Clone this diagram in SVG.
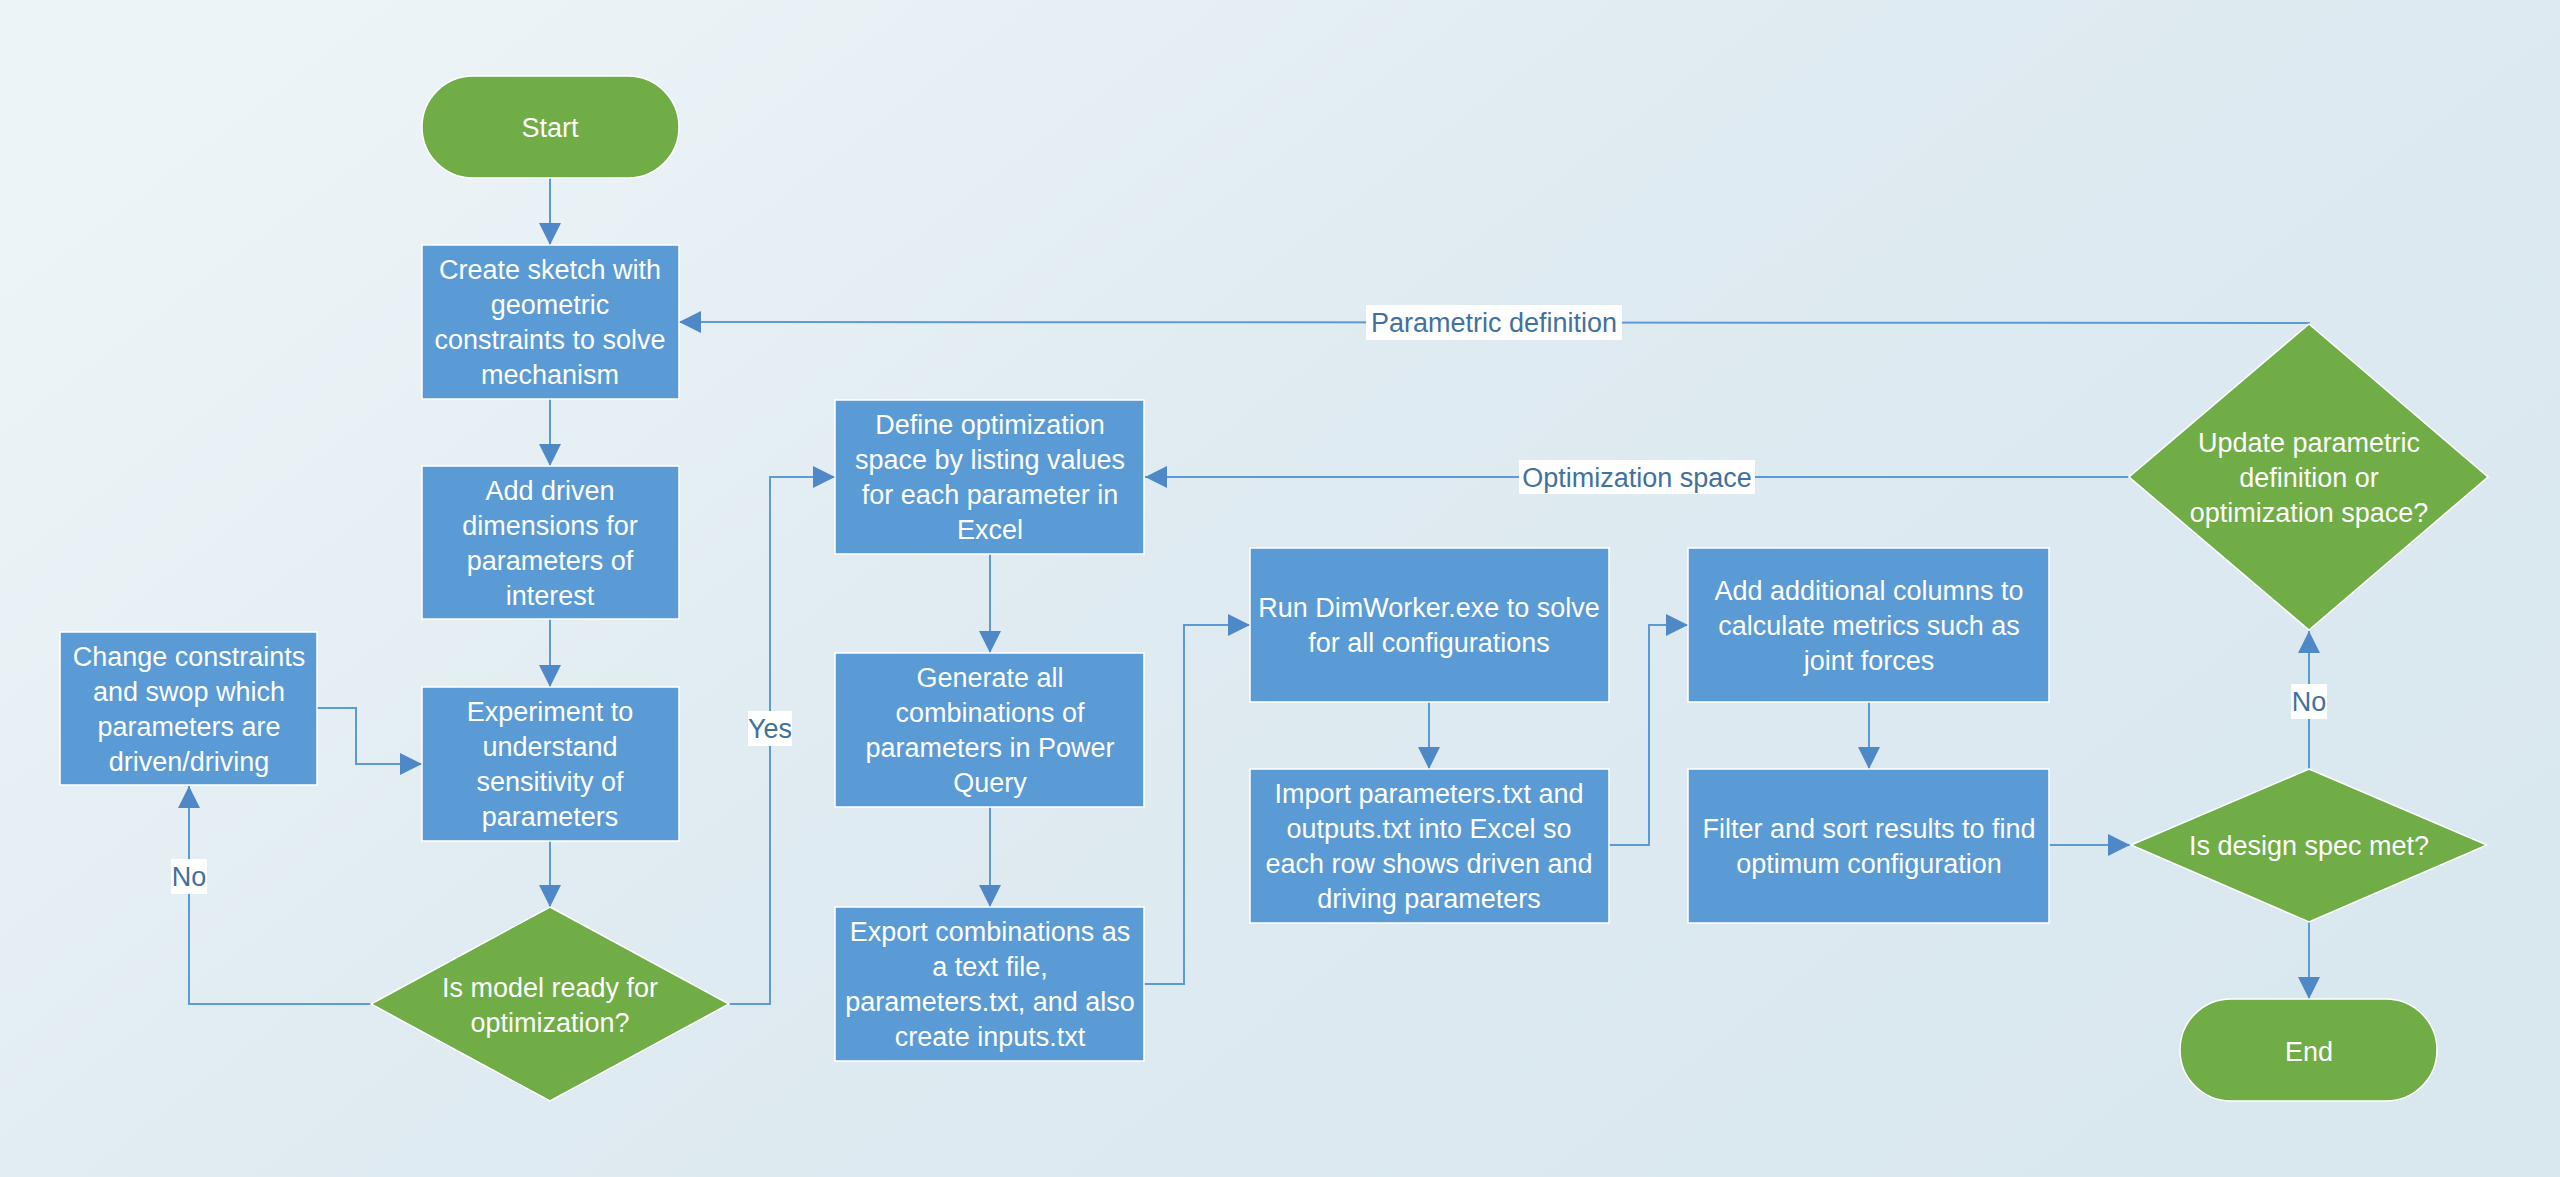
<svg xmlns="http://www.w3.org/2000/svg" width="2560" height="1177" viewBox="0 0 2560 1177">
<defs>
<linearGradient id="bg" x1="0" y1="0.2" x2="1" y2="0.8">
<stop offset="0" stop-color="#EDF4F7"/>
<stop offset="0.45" stop-color="#DFEBF1"/>
<stop offset="1" stop-color="#D9E7EF"/>
</linearGradient>
<marker id="arr" viewBox="0 0 22 22" refX="22" refY="11" markerWidth="22" markerHeight="22" markerUnits="userSpaceOnUse" orient="auto">
<path d="M0,0 L22,11 L0,22 z" fill="#4F88C6"/>
</marker>
<style>
.box{fill:#5B9BD5;stroke:#FFFFFF;stroke-width:1.5}
.grn{fill:#70AD47;stroke:#FFFFFF;stroke-width:1.5}
.t{font-family:"Liberation Sans",Arial,sans-serif;font-size:27px;fill:#FFFFFF;text-anchor:middle}
.c{fill:none;stroke:#5B9BD5;stroke-width:2}
.ca{fill:none;stroke:#5B9BD5;stroke-width:2;marker-end:url(#arr)}
.lb{fill:#FFFFFF}
.lt{font-family:"Liberation Sans",Arial,sans-serif;font-size:27px;fill:#41719C;text-anchor:middle}
</style>
</defs>
<rect x="0" y="0" width="2560" height="1177" fill="url(#bg)"/>

<g id="connectors">
<path class="ca" d="M550,178 L550,245"/>
<path class="ca" d="M550,399 L550,466"/>
<path class="ca" d="M550,619 L550,687"/>
<path class="ca" d="M550,841 L550,907"/>
<path class="ca" d="M371,1004 L189,1004 L189,786"/>
<path class="ca" d="M317,708 L356,708 L356,764 L422,764"/>
<path class="ca" d="M729,1004 L770,1004 L770,477 L835,477"/>
<path class="ca" d="M990,554 L990,653"/>
<path class="ca" d="M990,807 L990,907"/>
<path class="ca" d="M1144,984 L1184,984 L1184,625 L1250,625"/>
<path class="ca" d="M1429,702 L1429,769"/>
<path class="ca" d="M1609,845 L1649,845 L1649,625 L1688,625"/>
<path class="ca" d="M1869,702 L1869,769"/>
<path class="ca" d="M2049,845 L2130,845"/>
<path class="ca" d="M2309,769 L2309,631"/>
<path class="ca" d="M2309,922 L2309,999"/>
<path class="ca" d="M2309,324 L2309,323 L679,322"/>
<path class="ca" d="M2129,477 L1145,477"/>
<g id="lbl-no1"><rect class="lb" x="171" y="859" width="36" height="35"/><text class="lt" x="189" y="886">No</text></g>
<g id="lbl-yes"><rect class="lb" x="748" y="711" width="44" height="35"/><text class="lt" x="770" y="738">Yes</text></g>
<g id="lbl-no2"><rect class="lb" x="2291" y="684" width="36" height="35"/><text class="lt" x="2309" y="711">No</text></g>
<g id="lbl-param"><rect class="lb" x="1366" y="305" width="256" height="35"/><text class="lt" x="1494" y="332">Parametric definition</text></g>
<g id="lbl-opt"><rect class="lb" x="1519" y="460" width="236" height="34"/><text class="lt" x="1637" y="487">Optimization space</text></g>
</g>

<g id="start"><rect class="grn" x="422" y="76" width="257" height="102" rx="51" ry="51"/><text class="t" x="550" y="137">Start</text></g>

<g id="create"><rect class="box" x="422" y="245" width="257" height="154"/>
<text class="t" y="279"><tspan x="550">Create sketch with</tspan><tspan x="550" dy="35">geometric</tspan><tspan x="550" dy="35">constraints to solve</tspan><tspan x="550" dy="35">mechanism</tspan></text></g>

<g id="add-driven"><rect class="box" x="422" y="466" width="257" height="153"/>
<text class="t" y="499.5"><tspan x="550">Add driven</tspan><tspan x="550" dy="35">dimensions for</tspan><tspan x="550" dy="35">parameters of</tspan><tspan x="550" dy="35">interest</tspan></text></g>

<g id="experiment"><rect class="box" x="422" y="687" width="257" height="154"/>
<text class="t" y="721"><tspan x="550">Experiment to</tspan><tspan x="550" dy="35">understand</tspan><tspan x="550" dy="35">sensitivity of</tspan><tspan x="550" dy="35">parameters</tspan></text></g>

<g id="change"><rect class="box" x="60" y="632" width="257" height="153"/>
<text class="t" y="665.5"><tspan x="189">Change constraints</tspan><tspan x="189" dy="35">and swop which</tspan><tspan x="189" dy="35">parameters are</tspan><tspan x="189" dy="35">driven/driving</tspan></text></g>

<g id="is-model-ready"><polygon class="grn" points="550,907 729,1004 550,1101 371,1004"/>
<text class="t" y="996.5"><tspan x="550">Is model ready for</tspan><tspan x="550" dy="35">optimization?</tspan></text></g>

<g id="define"><rect class="box" x="835" y="400" width="309" height="154"/>
<text class="t" y="434"><tspan x="990">Define optimization</tspan><tspan x="990" dy="35">space by listing values</tspan><tspan x="990" dy="35">for each parameter in</tspan><tspan x="990" dy="35">Excel</tspan></text></g>

<g id="generate"><rect class="box" x="835" y="653" width="309" height="154"/>
<text class="t" y="687"><tspan x="990">Generate all</tspan><tspan x="990" dy="35">combinations of</tspan><tspan x="990" dy="35">parameters in Power</tspan><tspan x="990" dy="35">Query</tspan></text></g>

<g id="export"><rect class="box" x="835" y="907" width="309" height="154"/>
<text class="t" y="941"><tspan x="990">Export combinations as</tspan><tspan x="990" dy="35">a text file,</tspan><tspan x="990" dy="35">parameters.txt, and also</tspan><tspan x="990" dy="35">create inputs.txt</tspan></text></g>

<g id="run"><rect class="box" x="1250" y="548" width="359" height="154"/>
<text class="t" y="617"><tspan x="1429">Run DimWorker.exe to solve</tspan><tspan x="1429" dy="35">for all configurations</tspan></text></g>

<g id="import"><rect class="box" x="1250" y="769" width="359" height="154"/>
<text class="t" y="803"><tspan x="1429">Import parameters.txt and</tspan><tspan x="1429" dy="35">outputs.txt into Excel so</tspan><tspan x="1429" dy="35">each row shows driven and</tspan><tspan x="1429" dy="35">driving parameters</tspan></text></g>

<g id="add-columns"><rect class="box" x="1688" y="548" width="361" height="154"/>
<text class="t" y="599.5"><tspan x="1869">Add additional columns to</tspan><tspan x="1869" dy="35">calculate metrics such as</tspan><tspan x="1869" dy="35">joint forces</tspan></text></g>

<g id="filter"><rect class="box" x="1688" y="769" width="361" height="154"/>
<text class="t" y="838"><tspan x="1869">Filter and sort results to find</tspan><tspan x="1869" dy="35">optimum configuration</tspan></text></g>

<g id="is-design-met"><polygon class="grn" points="2309,769 2487,845 2309,922 2131,845"/>
<text class="t" x="2309" y="854.5">Is design spec met?</text></g>

<g id="update"><polygon class="grn" points="2309,324 2488,477 2309,630 2129,477"/>
<text class="t" y="451.5"><tspan x="2309">Update parametric</tspan><tspan x="2309" dy="35">definition or</tspan><tspan x="2309" dy="35">optimization space?</tspan></text></g>

<g id="end"><rect class="grn" x="2180" y="999" width="257" height="102" rx="51" ry="51"/><text class="t" x="2309" y="1060.5">End</text></g>
</svg>
